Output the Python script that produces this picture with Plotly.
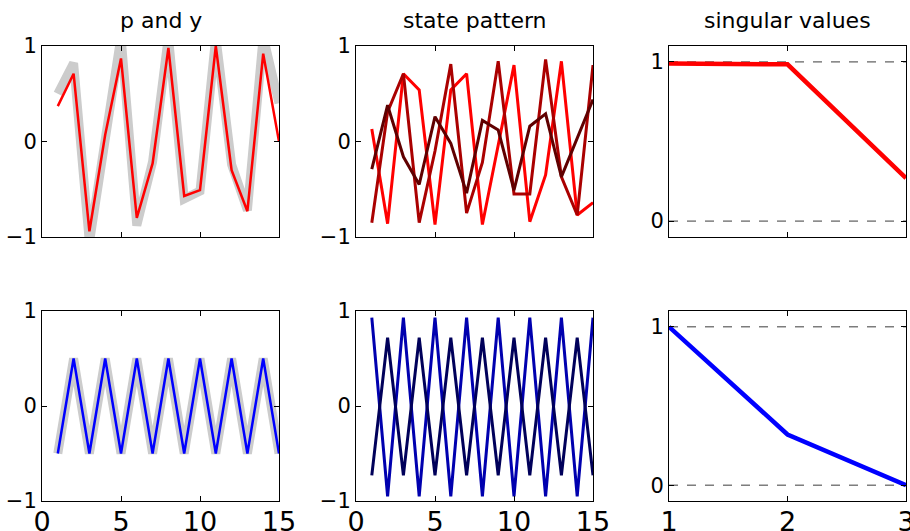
import plotly.graph_objects as go

# ---------------- data ----------------
t = list(range(1, 16))

# top-left: p (red) and y (gray)
p_top = [0.37, 0.71, -0.94, 0.07, 0.87, -0.80, -0.23, 0.98, -0.57, -0.51, 1.00, -0.30, -0.73, 0.92, 0.00]
y_top = [0.50, 0.82, -1.06, 0.10, 1.10, -0.88, -0.21, 1.10, -0.60, -0.52, 1.10, -0.24, -0.72, 1.10, 0.40]

# top-middle: state pattern (three states)
s1_top = [0.13, -0.86, 0.71, 0.54, -0.87, 0.54, 0.71, -0.87, -0.04, 0.80, -0.84, -0.35, 0.84, -0.77, -0.64]
s2_top = [-0.85, 0.31, 0.71, -0.85, -0.10, 0.81, -0.75, -0.22, 0.84, -0.55, -0.55, 0.86, -0.37, -0.77, 0.80]
s3_top = [-0.29, 0.38, -0.16, -0.45, 0.26, -0.02, -0.54, 0.22, 0.12, -0.51, 0.16, 0.29, -0.37, 0.03, 0.44]

# top-right: singular values
sv_idx = [1, 2, 3]
sv_top = [0.99, 0.985, 0.27]

# bottom-left: p (blue) and y (gray)
p_bot = [-0.5, 0.5, -0.5, 0.5, -0.5, 0.5, -0.5, 0.5, -0.5, 0.5, -0.5, 0.5, -0.5, 0.5, -0.5]
y_bot = [-0.5, 0.5, -0.5, 0.5, -0.5, 0.5, -0.5, 0.5, -0.5, 0.5, -0.5, 0.5, -0.5, 0.5, -0.5]

# bottom-middle: state pattern (two states)
s1_bot = [0.93, -0.95, 0.93, -0.95, 0.93, -0.95, 0.93, -0.95, 0.93, -0.95, 0.93, -0.95, 0.93, -0.95, 0.93]
s2_bot = [-0.73, 0.72, -0.73, 0.72, -0.73, 0.72, -0.73, 0.72, -0.73, 0.72, -0.73, 0.72, -0.73, 0.72, -0.73]

# bottom-right: singular values
sv_bot = [1.0, 0.32, 0.0]

# reference levels for dashed lines
ref_x = [1, 3]
ref_levels = [0, 1]

titles = ["p and y", "state pattern", "singular values"]
tick_t = [0, 5, 10, 15]
tick_pm = [-1, 0, 1]
tick_pm_text = ["\u22121", "0", "1"]
tick_sv = [0, 1]

# ---------------- layout geometry ----------------
W, H = 910, 531
cols = [(42, 279), (356, 593), (669, 906)]
rows = [(46, 237), (311, 501)]

def xd(c):
    return [cols[c][0] / W, cols[c][1] / W]

def yd(r):
    return [1 - rows[r][1] / H, 1 - rows[r][0] / H]

fig = go.Figure()

GRAY = "rgb(204,204,204)"
FONT = "DejaVu Sans, Liberation Sans, Arial, sans-serif"

def add(x, y, ax, color, width, dash=None):
    fig.add_trace(go.Scatter(
        x=x, y=y, mode="lines", xaxis="x" + ax, yaxis="y" + ax,
        line=dict(color=color, width=width, dash=dash), showlegend=False,
        hoverinfo="skip"))

# top row
add(t, y_top, "", GRAY, 9)
add(t, p_top, "", "rgb(255,0,0)", 2.5)
add(t, s1_top, "2", "rgb(255,0,0)", 3)
add(t, s2_top, "2", "rgb(170,0,0)", 3)
add(t, s3_top, "2", "rgb(96,0,0)", 3)
for lv in ref_levels:
    add(ref_x, [lv, lv], "3", "rgb(60,60,60)", 1, "dash")
add(sv_idx, sv_top, "3", "rgb(255,0,0)", 4.5)

# bottom row
add(t, y_bot, "4", GRAY, 9)
add(t, p_bot, "4", "rgb(0,0,255)", 2.5)
add(t, s1_bot, "5", "rgb(0,0,175)", 3)
add(t, s2_bot, "5", "rgb(0,0,90)", 3)
for lv in ref_levels:
    add(ref_x, [lv, lv], "6", "rgb(60,60,60)", 1, "dash")
add(sv_idx, sv_bot, "6", "rgb(0,0,255)", 4.5)

common = dict(showline=True, linecolor="black", linewidth=1, mirror="ticks",
              ticks="inside", ticklen=5, tickcolor="black", tickwidth=1,
              showgrid=False, zeroline=False, fixedrange=True, automargin=False,
              ticklabeloverflow="allow")

layout = dict(width=W, height=H, margin=dict(l=0, r=0, t=0, b=0, autoexpand=False),
              paper_bgcolor="white", plot_bgcolor="white",
              font=dict(family=FONT, color="black", size=19))

names = ["", "2", "3", "4", "5", "6"]
for i, n in enumerate(names):
    r, c = divmod(i, 3)
    if c < 2:
        xa = dict(range=[0, 15], tickvals=tick_t)
        ya = dict(range=[-1, 1], tickvals=tick_pm, ticktext=tick_pm_text)
    else:
        xa = dict(range=[1, 3], tickvals=sv_idx)
        ya = dict(range=[-0.1, 1.1], tickvals=tick_sv)
    xa.update(common)
    ya.update(common)
    xa["domain"] = xd(c)
    ya["domain"] = yd(r)
    xa["anchor"] = "y" + n
    ya["anchor"] = "x" + n
    xa["showticklabels"] = (r == 1)
    xa["tickfont"] = dict(size=27)
    xa["ticklabelstandoff"] = -3
    ya["tickfont"] = dict(size=21)
    layout["xaxis" + n] = xa
    layout["yaxis" + n] = ya

anns = []
for c, txt in enumerate(titles):
    anns.append(dict(text=txt, x=(cols[c][0] + cols[c][1]) / 2 / W, y=1 - 21 / H,
                     xref="paper", yref="paper", xanchor="center", yanchor="middle",
                     showarrow=False, font=dict(size=22)))
layout["annotations"] = anns

fig.update_layout(**layout)
fig.write_html("out.html", config={"displayModeBar": False, "staticPlot": True},
               post_script="document.body.style.margin='0';document.body.style.overflow='hidden';")
